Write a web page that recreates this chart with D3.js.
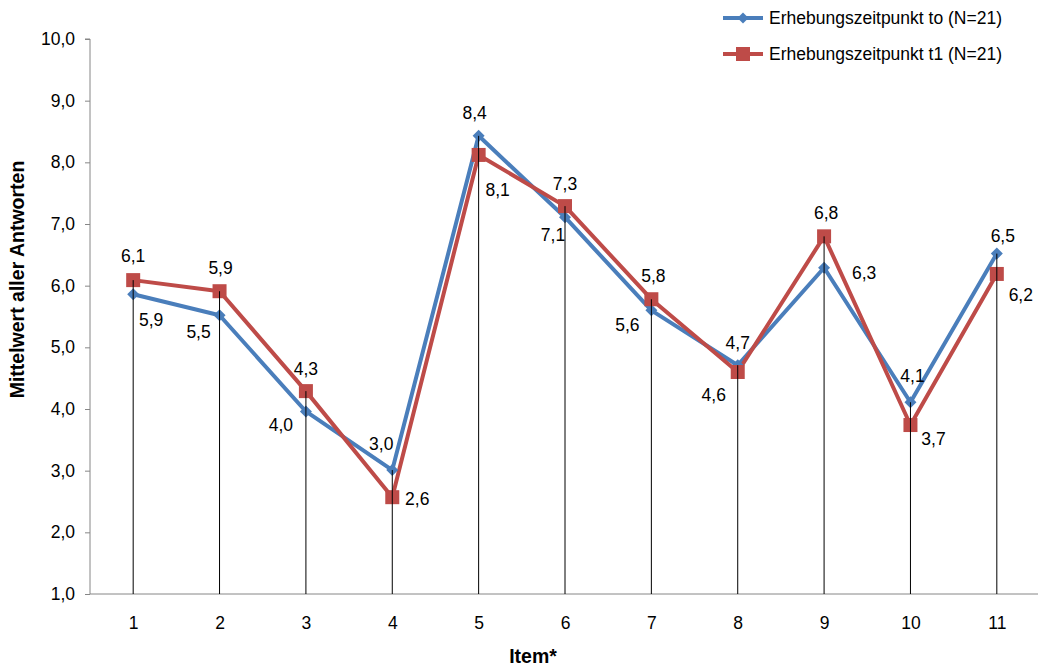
<!DOCTYPE html>
<html>
<head>
<meta charset="utf-8">
<script src="https://cdn.jsdelivr.net/npm/d3@7"></script>
<style>
  html, body { margin: 0; padding: 0; background: #fff; }
  svg { display: block; font-family: "Liberation Sans", Arial, sans-serif; }
</style>
</head>
<body>
<svg id="chart" width="1038" height="668"></svg>
<script>
// ---- data ----
const items = ["1","2","3","4","5","6","7","8","9","10","11"];
const seriesNames = ["Erhebungszeitpunkt to (N=21)", "Erhebungszeitpunkt t1 (N=21)"];
const valuesT0 = [5.86, 5.52, 3.96, 3.01, 8.43, 7.11, 5.60, 4.71, 6.29, 4.11, 6.52];
const valuesT1 = [6.09, 5.91, 4.29, 2.57, 8.12, 7.29, 5.78, 4.60, 6.80, 3.74, 6.19];
const yTicks = [1,2,3,4,5,6,7,8,9,10];

// ---- layout (label offsets relative to the point, in px) ----
const labelOffT0 = [[18,26],[-21,17],[-25,14],[-11,-26],[-4,-23],[-12,18],[-24,15],[0,-22],[40,5],[2,-26],[6,-18]];
const labelOffT1 = [[0,-24],[1,-23],[0,-22],[25,2],[19,35],[0,-22],[2,-23],[-24,23],[2,-23],[23,14],[24,21]];

const colors = ["#4A7EBB", "#BE4B48"];
const svg = d3.select("#chart");

const x = d3.scalePoint().domain(items).range([90, 1040]).padding(0.5);
const y = d3.scaleLinear().domain([1, 10]).range([594, 39]);
const fmt = v => d3.format(".1f")(v).replace(".", ",");

// y axis
const yAxis = svg.append("g").attr("transform", "translate(90,0)")
  .call(d3.axisLeft(y).tickValues(yTicks).tickSize(5).tickPadding(10).tickFormat(fmt));
yAxis.select(".domain").attr("stroke", "#868686").attr("d", `M0,${y(1)}V${y(10)}H-5`);
yAxis.selectAll(".tick line").attr("stroke", "#868686");
yAxis.selectAll(".tick text").attr("font-size", "17.5px").attr("fill", "#000")
  .attr("font-family", "Liberation Sans, Arial, sans-serif");

// x axis
const xAxis = svg.append("g").attr("transform", `translate(0,${y(1)})`)
  .call(d3.axisBottom(x).tickSize(0).tickPadding(23));
xAxis.select(".domain").attr("stroke", "#868686").attr("d", "M90,0H1040");
xAxis.selectAll(".tick text").attr("font-size", "17.5px").attr("fill", "#000")
  .attr("font-family", "Liberation Sans, Arial, sans-serif");

// series
const series = [valuesT0, valuesT1];
const line = d3.line().x((d, i) => x(items[i])).y(d => y(d));
series.forEach((vals, s) => {
  svg.append("path").datum(vals)
    .attr("d", line).attr("fill", "none")
    .attr("stroke", colors[s]).attr("stroke-width", 4).attr("stroke-linejoin", "round");
});

// markers
const diamond = d3.symbol().type(d3.symbolDiamond2 || d3.symbolDiamond).size(90);
svg.append("g").selectAll("path").data(valuesT0).join("path")
  .attr("d", d3.symbol().type(d3.symbolSquare).size(72))
  .attr("transform", (d, i) => `translate(${x(items[i])},${y(d)}) rotate(45)`)
  .attr("fill", colors[0]);
svg.append("g").selectAll("rect").data(valuesT1).join("rect")
  .attr("x", (d, i) => x(items[i]) - 7).attr("y", d => y(d) - 7)
  .attr("width", 14).attr("height", 14).attr("fill", colors[1]);

// drop lines
svg.append("g").selectAll("line").data(items).join("line")
  .attr("x1", d => x(d)).attr("x2", d => x(d))
  .attr("y1", y(1)).attr("y2", (d, i) => y(Math.max(valuesT0[i], valuesT1[i])))
  .attr("stroke", "#000").attr("stroke-width", 1);

// data labels
const addLabels = (vals, offs) => {
  svg.append("g").selectAll("text").data(vals).join("text")
    .attr("x", (d, i) => x(items[i]) + offs[i][0])
    .attr("y", (d, i) => y(d) + offs[i][1])
    .attr("text-anchor", "middle").attr("dominant-baseline", "central")
    .attr("font-size", "17.5px").attr("fill", "#000")
    .text(d => fmt(d));
};
addLabels(valuesT0, labelOffT0);
addLabels(valuesT1, labelOffT1);

// axis titles
svg.append("text").attr("transform", `translate(24,${(y(1) + y(10)) / 2 - 37}) rotate(-90)`)
  .attr("text-anchor", "middle").attr("font-weight", "bold").attr("font-size", "19.5px")
  .text("Mittelwert aller Antworten");
svg.append("text").attr("x", 533).attr("y", 663)
  .attr("text-anchor", "middle").attr("font-weight", "bold").attr("font-size", "19.5px")
  .text("Item*");

// legend
const legY = [18, 54];
seriesNames.forEach((name, s) => {
  const g = svg.append("g");
  g.append("line").attr("x1", 723).attr("x2", 763).attr("y1", legY[s]).attr("y2", legY[s])
    .attr("stroke", colors[s]).attr("stroke-width", 4);
  if (s === 0) {
    g.append("path").attr("d", d3.symbol().type(d3.symbolSquare).size(60))
      .attr("transform", `translate(743,${legY[s]}) rotate(45)`).attr("fill", colors[s]);
  } else {
    g.append("rect").attr("x", 736).attr("y", legY[s] - 7).attr("width", 14).attr("height", 14)
      .attr("fill", colors[s]);
  }
  g.append("text").attr("x", 769).attr("y", legY[s]).attr("dominant-baseline", "central")
    .attr("font-size", "17.5px").text(name);
});
</script>
</body>
</html>
